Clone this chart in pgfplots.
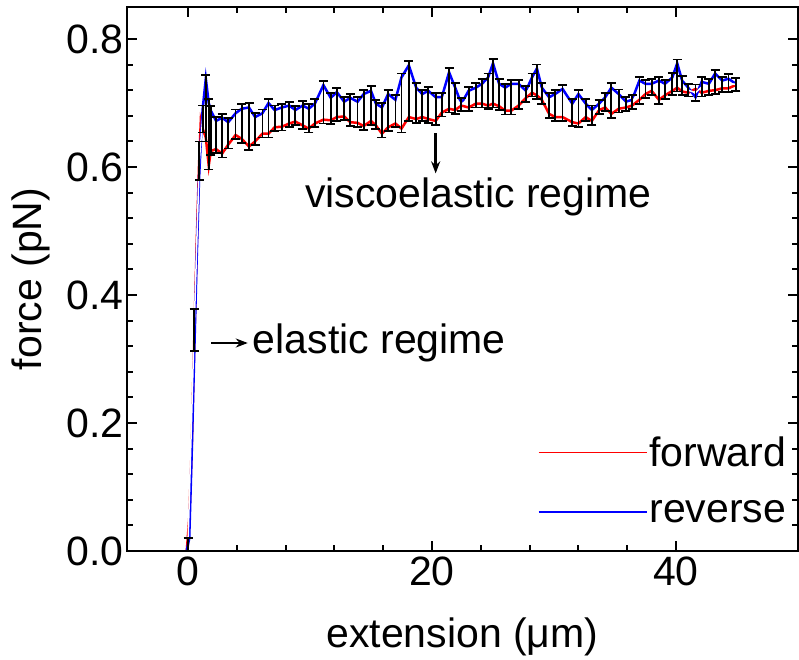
\documentclass[border=0pt]{standalone}
\usepackage{fontspec}
\setmainfont{Liberation Sans}
\usepackage{pgfplots}
\pgfplotsset{compat=1.18}
\usepackage{pgfplotstable}
\usetikzlibrary{arrows.meta}

% x forward reverse
\pgfplotstableread{
x fwd rev
-0.1 0.000 0.000
0.1 0.05 0.02
0.3 0.16 0.15
0.5 0.32 0.30
0.7 0.47 0.45
0.9 0.60 0.58
1.05 0.672 0.64
1.2 0.660 0.69
1.46 0.646 0.738
1.7 0.602 0.700
1.87 0.625 0.688
2.3 0.628 0.672
2.8 0.621 0.677
3.3 0.635 0.670
3.9 0.650 0.684
4.4 0.644 0.691
5.0 0.632 0.693
5.5 0.640 0.678
6.1 0.652 0.684
6.6 0.652 0.700
7.1 0.662 0.689
7.7 0.663 0.693
8.3 0.668 0.696
8.8 0.671 0.689
9.4 0.665 0.696
9.9 0.660 0.691
10.4 0.668 0.699
11.1 0.674 0.728
11.7 0.673 0.708
12.2 0.678 0.717
12.8 0.679 0.702
13.3 0.670 0.708
13.9 0.669 0.702
14.4 0.664 0.714
15.0 0.672 0.719
15.4 0.665 0.699
15.9 0.652 0.693
16.4 0.662 0.714
17.0 0.668 0.705
17.5 0.660 0.740
18.1 0.678 0.759
18.7 0.675 0.724
19.2 0.678 0.714
19.7 0.675 0.719
20.3 0.672 0.709
20.8 0.685 0.709
21.4 0.691 0.748
21.9 0.689 0.724
22.4 0.696 0.699
23.0 0.693 0.719
23.6 0.699 0.724
24.1 0.699 0.730
24.6 0.696 0.740
25.0 0.699 0.762
25.5 0.695 0.730
26.0 0.688 0.724
26.5 0.688 0.730
27.1 0.696 0.730
27.7 0.708 0.719
28.2 0.716 0.740
28.6 0.712 0.754
29.0 0.705 0.724
29.6 0.683 0.709
30.1 0.678 0.714
30.7 0.678 0.722
31.5 0.670 0.699
32.0 0.668 0.714
32.6 0.678 0.699
33.1 0.672 0.689
33.7 0.689 0.699
34.2 0.693 0.709
34.7 0.683 0.724
35.3 0.691 0.714
35.9 0.693 0.702
36.4 0.696 0.705
37.0 0.705 0.735
37.5 0.714 0.730
38.0 0.719 0.730
38.6 0.705 0.735
39.1 0.712 0.730
39.7 0.719 0.740
40.1 0.724 0.762
40.5 0.718 0.735
41.0 0.716 0.724
41.6 0.722 0.709
42.1 0.716 0.733
42.7 0.719 0.730
43.2 0.720 0.746
43.8 0.723 0.735
44.3 0.723 0.738
44.9 0.728 0.730
}\forcedata

% mean and error
\pgfplotstableread{
x m e
0.0 0.010 0.010
0.5 0.345 0.033
0.93 0.610 0.030
1.2 0.675 0.021
1.46 0.692 0.052
1.7 0.651 0.055
1.87 0.657 0.038
2.3 0.650 0.028
2.8 0.649 0.034
3.3 0.653 0.024
3.9 0.667 0.023
4.4 0.668 0.030
5.0 0.663 0.037
5.5 0.659 0.025
6.1 0.668 0.022
6.6 0.676 0.030
7.1 0.676 0.020
7.7 0.678 0.021
8.3 0.682 0.020
8.8 0.680 0.015
9.4 0.681 0.022
9.9 0.676 0.022
10.4 0.684 0.022
11.1 0.701 0.033
11.7 0.691 0.024
12.2 0.698 0.026
12.8 0.691 0.018
13.3 0.689 0.025
13.9 0.686 0.023
14.4 0.689 0.031
15.0 0.696 0.030
15.4 0.682 0.023
15.9 0.673 0.027
16.4 0.688 0.032
17.0 0.687 0.025
17.5 0.700 0.046
18.1 0.719 0.047
18.7 0.700 0.031
19.2 0.696 0.024
19.7 0.697 0.028
20.3 0.691 0.025
20.8 0.697 0.018
21.4 0.720 0.035
21.9 0.707 0.024
22.4 0.698 0.010
23.0 0.706 0.019
23.6 0.712 0.019
24.1 0.715 0.022
24.6 0.718 0.028
25.0 0.731 0.038
25.5 0.713 0.024
26.0 0.706 0.024
26.5 0.709 0.027
27.1 0.713 0.023
27.7 0.714 0.012
28.2 0.728 0.018
28.6 0.733 0.027
29.0 0.715 0.016
29.6 0.696 0.019
30.1 0.696 0.024
30.7 0.700 0.028
31.5 0.685 0.021
32.0 0.691 0.029
32.6 0.689 0.017
33.1 0.681 0.015
33.7 0.694 0.011
34.2 0.701 0.014
34.7 0.704 0.027
35.3 0.703 0.018
35.9 0.698 0.011
36.4 0.701 0.011
37.0 0.720 0.021
37.5 0.722 0.014
38.0 0.725 0.012
38.6 0.720 0.021
39.1 0.721 0.015
39.7 0.730 0.017
40.1 0.743 0.025
40.5 0.727 0.015
41.0 0.720 0.010
41.6 0.716 0.013
42.1 0.725 0.015
42.7 0.725 0.012
43.2 0.733 0.019
43.8 0.729 0.012
44.3 0.731 0.014
44.9 0.729 0.010
}\meandata

\begin{document}
\begin{tikzpicture}[font=\fontsize{41}{49}\selectfont]
\begin{axis}[
  name=ax,
  scale only axis,
  width=671pt, height=544pt,
  xmin=-5, xmax=50, ymin=0, ymax=0.85,
  xtick={0,20,40}, ytick={0,0.2,0.4,0.6,0.8},
  minor x tick num=4, minor y tick num=4,
  tick align=inside,
  xtick pos=both, ytick pos=both,
  xticklabel pos=bottom, yticklabel pos=left,
  major tick length=10pt, minor tick length=6pt,
  every tick/.style={black, line width=2pt},
  axis line style={line width=2.5pt},
  /pgf/number format/assume math mode=true,
  yticklabel style={/pgf/number format/fixed, /pgf/number format/fixed zerofill, /pgf/number format/precision=1},
  xticklabel style={yshift=-2pt},
  xlabel={extension (μm)},
  ylabel={force (pN)},
  every axis x label/.style={at={(axis description cs:0.5,-0.158)}, anchor=center},
  every axis y label/.style={at={(axis description cs:-0.143,0.5)}, anchor=center, rotate=90},
  legend style={at={(rel axis cs:0.99,0.13)}, anchor=east, draw=none, fill=none, row sep=28pt,
    nodes={inner sep=2pt}},
  legend cell align=left,
  legend image code/.code={\draw[#1, line width=1.6pt] (0pt,0pt) -- (108pt,0pt);},
  clip=false,
]
\addplot[red, line width=2.5pt] table[x=x, y=fwd] {\forcedata};
\addlegendentry{forward}
\addplot[blue, line width=2.5pt] table[x=x, y=rev] {\forcedata};
\addlegendentry{reverse}
\addplot[white, line width=1.5pt, forget plot,
  error bars/.cd, y dir=both, y explicit,
  error bar style={black, line width=1.8pt},
  error mark options={black, rotate=90, mark size=4.5pt, line width=1.8pt}]
  table[x=x, y=m, y error=e] {\meandata};
\draw[-{Stealth[length=12pt,width=9pt]}, line width=2.5pt] (axis cs:20.3,0.653) -- (axis cs:20.3,0.59);
\draw[-{Stealth[length=12pt,width=9pt]}, line width=2.5pt] (axis cs:1.9,0.325) -- (axis cs:4.9,0.325);
\node at (axis cs:23.8,0.553) {viscoelastic regime};
\node[anchor=west, inner sep=0pt] at (axis cs:5.3,0.325) {elastic regime};
\end{axis}
\pgfresetboundingbox
\path[use as bounding box] ([xshift=-127pt,yshift=-108pt]ax.south west) rectangle ([xshift=1pt,yshift=7pt]ax.north east);
\end{tikzpicture}
\end{document}
